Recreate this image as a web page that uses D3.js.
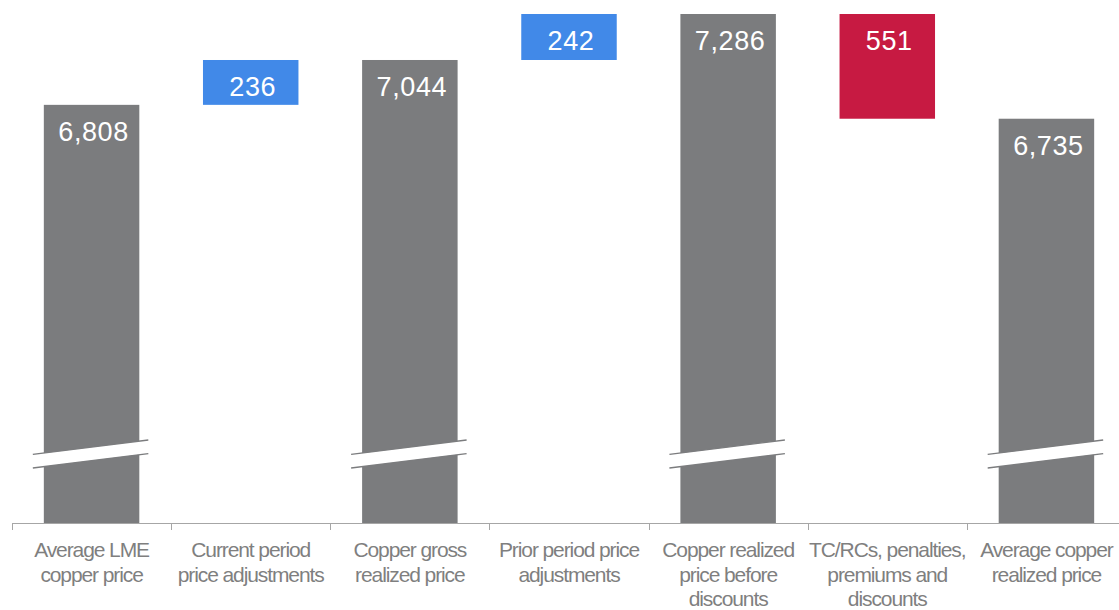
<!DOCTYPE html>
<html>
<head>
<meta charset="utf-8">
<script src="https://cdn.jsdelivr.net/npm/d3@7"></script>
<style>
  html, body { margin: 0; padding: 0; background: #fff; }
  svg { display: block; }
</style>
</head>
<body>
<svg id="chart" width="1119" height="610"></svg>
<script>
// ---- data ----
const categories = [
  ["Average LME", "copper price"],
  ["Current period", "price adjustments"],
  ["Copper gross", "realized price"],
  ["Prior period price", "adjustments"],
  ["Copper realized", "price before", "discounts"],
  ["TC/RCs, penalties,", "premiums and", "discounts"],
  ["Average copper", "realized price"]
];
const kinds = ["total", "delta", "total", "delta", "total", "delta", "total"];
const values = [6808, 236, 7044, 242, 7286, -551, 6735];
const valueLabels = ["6,808", "236", "7,044", "242", "7,286", "551", "6,735"];
const axisMin = 4608;   // broken axis: visible value at the baseline
const axisMax = 7286;

// ---- build waterfall segments ----
let running = 0;
const segs = values.map((v, i) => {
  let lo, hi;
  if (kinds[i] === "total") { lo = axisMin; hi = v; running = v; }
  else { const s = running; running = s + v; lo = Math.min(s, running); hi = Math.max(s, running); }
  return { i, kind: kinds[i], v, lo, hi, label: valueLabels[i] };
});

const svg = d3.select("#chart");
const baseY = 523;
const x = d3.scaleBand().domain(d3.range(categories.length))
  .range([12, 1126]).paddingInner(0.4).paddingOuter(0.2);
const y = d3.scaleLinear().domain([axisMin, axisMax]).range([baseY, 14]);

const colorFor = d => d.kind === "total" ? "#7b7c7e" : (d.v >= 0 ? "#4189e8" : "#c71a42");

// bars
svg.append("g").selectAll("rect").data(segs).join("rect")
  .attr("x", d => x(d.i))
  .attr("width", x.bandwidth())
  .attr("y", d => y(d.hi))
  .attr("height", d => y(d.lo) - y(d.hi))
  .attr("fill", colorFor);

// value labels
svg.append("g").selectAll("text").data(segs).join("text")
  .attr("x", d => x(d.i) + x.bandwidth() / 2 + 2)
  .attr("y", d => y(d.hi) + 36)
  .attr("text-anchor", "middle")
  .attr("fill", "#ffffff")
  .attr("font-family", "'Liberation Sans', Arial, sans-serif")
  .attr("font-size", 27)
  .attr("letter-spacing", "0.6px")
  .text(d => d.label);

// axis break marks on total bars
const brk = svg.append("g");
segs.filter(d => d.kind === "total").forEach(d => {
  const x0 = x(d.i) - 11, x1 = x(d.i) + x.bandwidth() + 9;
  const cx = (x0 + x1) / 2, cy = baseY - 69, slope = -0.125, hh = 6.8;
  const yAt = (xx, off) => cy + (xx - cx) * slope + off;
  brk.append("path")
    .attr("d", `M${x0},${yAt(x0, -hh)}L${x1},${yAt(x1, -hh)}L${x1},${yAt(x1, hh)}L${x0},${yAt(x0, hh)}Z`)
    .attr("fill", "#ffffff");
  [-hh, hh].forEach(off => {
    brk.append("line")
      .attr("x1", x0).attr("y1", yAt(x0, off))
      .attr("x2", x1).attr("y2", yAt(x1, off))
      .attr("stroke", "#7b7c7e").attr("stroke-width", 1.4);
  });
});

// axis line with ticks at band boundaries
const ax = svg.append("g");
ax.append("line").attr("x1", 12).attr("x2", 1119).attr("y1", baseY + 0.5).attr("y2", baseY + 0.5)
  .attr("stroke", "#a6a6a6").attr("stroke-width", 1);
const step = x.step();
d3.range(categories.length + 1).forEach(k => {
  const tx = Math.round(x(0) - step * 0.2 + k * step) + 0.5;
  ax.append("line").attr("x1", tx).attr("x2", tx).attr("y1", baseY).attr("y2", baseY + 7)
    .attr("stroke", "#a6a6a6").attr("stroke-width", 1);
});

// category labels
const lab = svg.append("g");
categories.forEach((lines, i) => {
  const t = lab.append("text")
    .attr("x", x(i) + x.bandwidth() / 2)
    .attr("y", 557)
    .attr("text-anchor", "middle")
    .attr("fill", "#7f7f7f")
    .attr("font-family", "'Liberation Sans', Arial, sans-serif")
    .attr("font-size", 21)
    .attr("letter-spacing", "-1.1px");
  lines.forEach((ln, j) => {
    t.append("tspan").attr("x", x(i) + x.bandwidth() / 2).attr("dy", j === 0 ? 0 : 24.5).text(ln);
  });
});
</script>
</body>
</html>
